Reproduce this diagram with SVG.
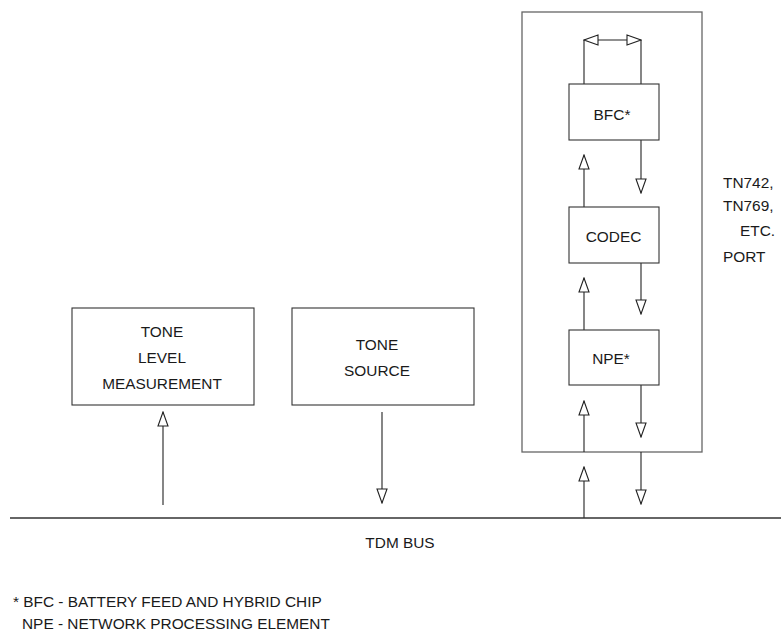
<svg xmlns="http://www.w3.org/2000/svg" width="781" height="634" viewBox="0 0 781 634">
<style>
.box{fill:#fff;stroke:#333;stroke-width:1.1}
.outer{fill:none;stroke:#666;stroke-width:1.3}
.ln{fill:none;stroke:#222;stroke-width:1.1}
.arr{fill:none;stroke:#222;stroke-width:1.1;marker-end:url(#ah)}
text{font-family:"Liberation Sans",Arial,sans-serif;font-size:15.4px;fill:#1a1a1a}
.c{text-anchor:middle}
</style>
<defs>
<marker id="ah" markerUnits="userSpaceOnUse" markerWidth="16" markerHeight="12" refX="14" refY="5" orient="auto-start-reverse" viewBox="-1 -1 16 12">
<path d="M0,0 L14,5 L0,10 Z" fill="#fff" stroke="#222" stroke-width="1.1"/>
</marker>
</defs>
<rect width="781" height="634" fill="#fff"/>
<g id="port">
<rect class="outer" x="522" y="12" width="180" height="440"/>
<text x="723" y="188">TN742,</text>
<text x="723" y="211">TN769,</text>
<text x="740" y="236">ETC.</text>
<text x="723" y="262">PORT</text>
</g>
<g id="connectors">
<line class="ln" x1="584" y1="84" x2="584" y2="40"/>
<line class="ln" x1="641" y1="84" x2="641" y2="40"/>
<line class="ln" x1="584" y1="40" x2="641" y2="40" marker-start="url(#ah)" marker-end="url(#ah)"/>
<line class="arr" x1="641" y1="140" x2="641" y2="193"/>
<line class="arr" x1="584" y1="207" x2="584" y2="155"/>
<line class="arr" x1="641" y1="263" x2="641" y2="314"/>
<line class="arr" x1="584" y1="330" x2="584" y2="278"/>
<line class="arr" x1="641" y1="385" x2="641" y2="437"/>
<line class="arr" x1="584" y1="452" x2="584" y2="401"/>
<line class="arr" x1="641" y1="452" x2="641" y2="504"/>
<line class="arr" x1="584" y1="518" x2="584" y2="467"/>
<line class="arr" x1="163" y1="505" x2="163" y2="412"/>
<line class="arr" x1="382" y1="412" x2="382" y2="503"/>
</g>
<g id="bfc">
<rect class="box" x="569" y="84" width="90" height="56"/>
<text class="c" x="612" y="120">BFC*</text>
</g>
<g id="codec">
<rect class="box" x="569" y="207" width="90" height="56"/>
<text class="c" x="613.5" y="242">CODEC</text>
</g>
<g id="npe">
<rect class="box" x="569" y="330" width="90" height="55"/>
<text class="c" x="611" y="364">NPE*</text>
</g>
<g id="tone-level">
<rect class="box" x="72" y="308" width="182" height="97"/>
<text class="c" x="162" y="337">TONE</text>
<text class="c" x="162" y="363">LEVEL</text>
<text class="c" x="162" y="389">MEASUREMENT</text>
</g>
<g id="tone-source">
<rect class="box" x="292" y="308" width="182" height="97"/>
<text class="c" x="377" y="350">TONE</text>
<text class="c" x="377" y="376">SOURCE</text>
</g>
<g id="tdm-bus">
<line x1="10" y1="518" x2="781" y2="518" stroke="#333" stroke-width="1.3"/>
<text class="c" x="400" y="548">TDM BUS</text>
</g>
<g id="footnote">
<text x="13" y="607">* BFC - BATTERY FEED AND HYBRID CHIP</text>
<text x="22" y="629">NPE - NETWORK PROCESSING ELEMENT</text>
</g>
</svg>
